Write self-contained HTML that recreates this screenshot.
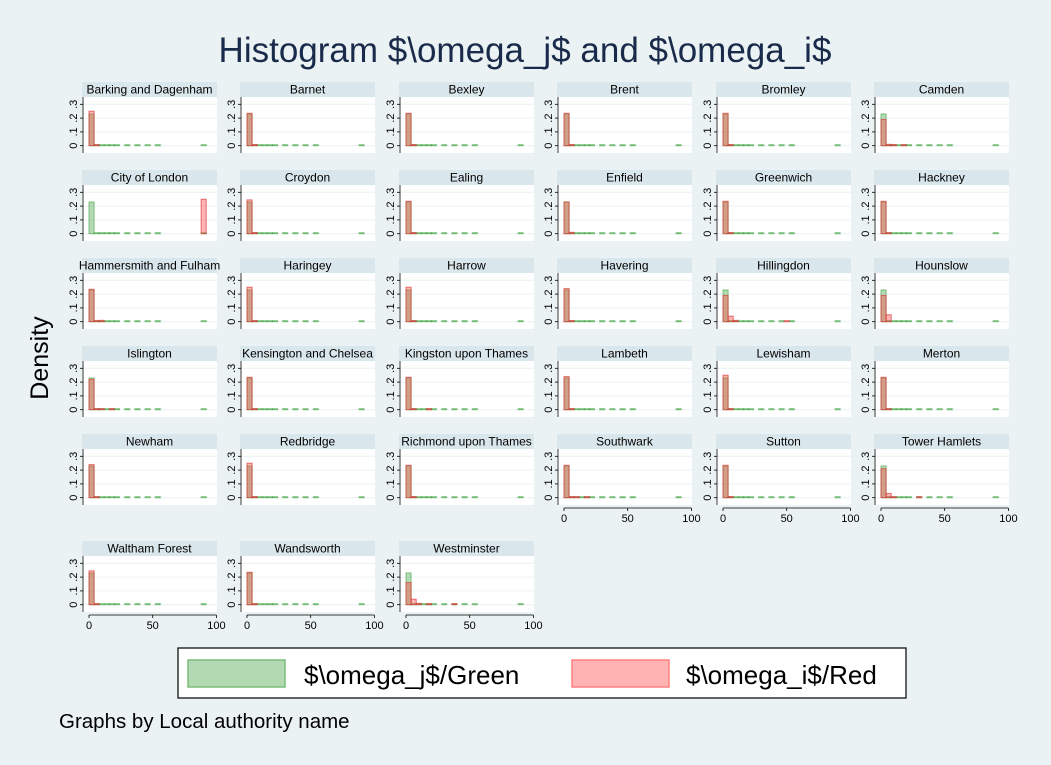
<!DOCTYPE html>
<html><head><meta charset="utf-8"><style>
body{margin:0;background:#eaf2f3;}
svg{display:block;font-family:"Liberation Sans",sans-serif;}
</style></head><body>
<svg id="c" width="1051" height="765">
<rect width="1051" height="765" fill="#eaf2f3"/>
<text x="525" y="62" text-anchor="middle" font-size="35" fill="#1a2a4a">Histogram $\omega_j$ and $\omega_i$</text>
<text transform="translate(48,358) rotate(-90)" text-anchor="middle" font-size="25" fill="#000">Density</text>
<g id="panels"></g>
<g>
<rect x="178" y="648" width="728" height="50" fill="#fff" stroke="#000" stroke-width="1.2"/>
<rect x="188" y="660" width="97" height="27" fill="#b3d9b3" stroke="#7bbd7b" stroke-width="1.5"/>
<text x="304" y="684" font-size="26">$\omega_j$/Green</text>
<rect x="572" y="660" width="97" height="27" fill="#ffb3b3" stroke="#ff8080" stroke-width="1.5"/>
<text x="686" y="684" font-size="26">$\omega_i$/Red</text>
</g>
<text x="59" y="728" font-size="20.5">Graphs by Local authority name</text>
</svg>
<script>
const names=["Barking and Dagenham","Barnet","Bexley","Brent","Bromley","Camden","City of London","Croydon","Ealing","Enfield","Greenwich","Hackney","Hammersmith and Fulham","Haringey","Harrow","Havering","Hillingdon","Hounslow","Islington","Kensington and Chelsea","Kingston upon Thames","Lambeth","Lewisham","Merton","Newham","Redbridge","Richmond upon Thames","Southwark","Sutton","Tower Hamlets","Waltham Forest","Wandsworth","Westminster"];
const binWidth=4;
const greenBase=[0.23,0.008,0.003,0.002,0.002,0.002,0,0.002,0,0.002,0,0.002,0,0.002,0,0,0,0,0,0,0,0,0.002,0,0];
const redBin0=[0.25,0.235,0.235,0.235,0.235,0.19,0,0.245,0.235,0.23,0.235,0.235,0.235,0.25,0.25,0.24,0.19,0.19,0.22,0.235,0.235,0.24,0.25,0.235,0.24,0.25,0.235,0.235,0.235,0.21,0.245,0.235,0.16];
const redBin1=[0.005,0.008,0.008,0.008,0.008,0.01,0,0.008,0.008,0.01,0.008,0.006,0.006,0.006,0.006,0.006,0.04,0.05,0.005,0.006,0.006,0.006,0.006,0.006,0.006,0.006,0.008,0.006,0.008,0.03,0.006,0.006,0.04];
const redBin2=[0,0,0,0,0,0.008,0,0,0,0,0,0,0.01,0,0,0,0.01,0,0.005,0,0,0,0,0,0,0,0,0.004,0,0.005,0,0,0.01];
const redBin4=[0,0,0,0,0,0.005,0,0,0,0,0,0,0,0,0,0,0,0,0.005,0,0.003,0,0,0,0,0,0,0.004,0,0,0,0,0.004];
const redFar=[0,0,0,0,0,0,0.25,0,0,0,0,0,0,0,0,0,0.004,0,0,0,0,0,0,0,0,0,0,0,0,0.004,0,0,0.004];
const redFarBin=[0,0,0,0,0,0,22,0,0,0,0,0,0,0,0,0,12,0,0,0,0,0,0,0,0,0,0,0,0,7,0,0,9];
const greenBin0=[0.23,0.23,0.23,0.23,0.23,0.23,0.23,0.23,0.23,0.23,0.23,0.23,0.23,0.23,0.23,0.23,0.23,0.23,0.23,0.23,0.23,0.23,0.23,0.23,0.23,0.23,0.23,0.23,0.23,0.23,0.23,0.23,0.23];
const xTicks=[0,50,100];
const yTicks=[0,0.1,0.2,0.3];
const yTickLabels=["0",".1",".2",".3"];
const NS="http://www.w3.org/2000/svg";
const G=document.getElementById('panels');
function mk(t,a,p){const e=document.createElementNS(NS,t);for(const k in a)e.setAttribute(k,a[k]);(p||G).appendChild(e);return e;}
const colX=[82,240,399,557,716,874];
const rowY=[82,170,258,346,434,541];
names.forEach((nm,i)=>{
  const r=Math.floor(i/6),c=i%6;
  const L=colX[c],T=rowY[r];
  const g=mk('g',{});
  
  
  const sx=v=>L+7+v*1.274;
  const sy=v=>T+63.7-v*138;
  const strip=mk('rect',{x:L,y:T,width:135,height:15,fill:'#d9e6eb'},g);
  
  
  const st=mk('text',{x:L+67.5,y:T+11.5,'text-anchor':'middle','font-size':12,fill:'#000'},g);
  st.textContent=nm;
  
  
  mk('rect',{x:L,y:T+15,width:135,height:56,fill:'#fff'},g);
  yTicks.forEach((t,k)=>{
    mk('line',{x1:L+1,x2:L+135,y1:sy(t),y2:sy(t),stroke:'#eaf2f3','stroke-width':1},g);
    mk('line',{x1:L-2,x2:L+1,y1:sy(t),y2:sy(t),stroke:'#000','stroke-width':0.8},g);
    const tl=mk('text',{transform:`translate(${L-5},${sy(t)}) rotate(-90)`,'text-anchor':'middle','font-size':11},g);
    tl.textContent=yTickLabels[k];
    
    
  });
  mk('line',{x1:L+1,x2:L+1,y1:T+15,y2:T+71,stroke:'#000','stroke-width':0.8},g);
  const gv=greenBase.slice();gv[0]=greenBin0[i];
  if(i===6){gv[1]=0.006;}
  const rv=new Array(25).fill(0);
  rv[0]=redBin0[i];rv[1]=redBin1[i];rv[2]=redBin2[i];rv[4]=redBin4[i];
  if(redFar[i]>0)rv[redFarBin[i]]=redFar[i];
  function bars(vals,fill,stroke,nmz){
    vals.forEach((v,b)=>{
      if(v<=0)return;
      const x0=sx(b*binWidth),x1=sx((b+1)*binWidth);
      const h=Math.max(sy(0)-sy(v),1);
      const e=mk('rect',{x:x0,y:sy(0)-h,width:x1-x0,height:h,fill:fill,stroke:stroke,'stroke-width':1},g);
      
      
    });
  }
  bars(gv,'rgba(60,160,60,0.38)','rgba(60,160,60,0.6)','bar-green');
  bars(rv,'rgba(255,60,60,0.38)','rgba(220,60,60,0.7)','bar-red');
  const bottom=(r===5)||(r===4&&c>=3);
  if(bottom){
    mk('line',{x1:sx(0),x2:sx(100),y1:T+74,y2:T+74,stroke:'#000','stroke-width':0.8},g);
    xTicks.forEach(t=>{
      mk('line',{x1:sx(t),x2:sx(t),y1:T+74,y2:T+77,stroke:'#000','stroke-width':0.8},g);
      const xl=mk('text',{x:sx(t),y:T+88,'text-anchor':'middle','font-size':11},g);
      xl.textContent=t;
      
      
    });
  }
});
</script>
</body></html>
